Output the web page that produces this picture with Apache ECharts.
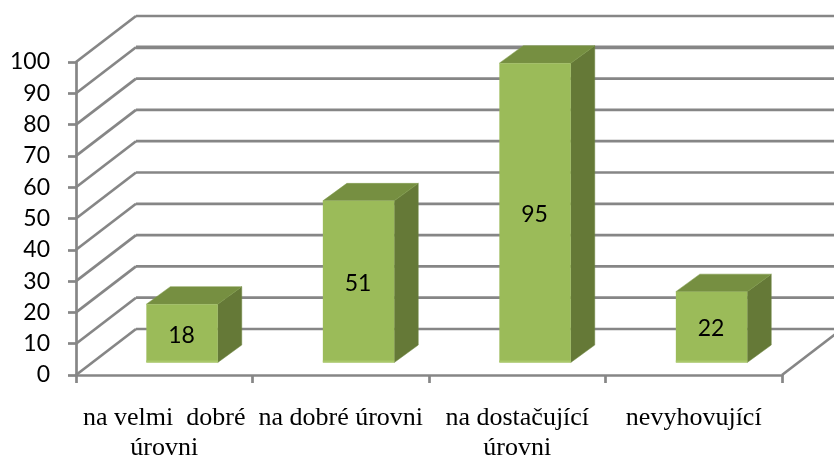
<!DOCTYPE html>
<html><head><meta charset="utf-8">
<style>html,body{margin:0;padding:0;background:#fff}#c{width:834px;height:459px}</style>
<script src="https://cdn.jsdelivr.net/npm/echarts@6/dist/echarts.min.js"></script>
</head><body><div id="c"></div>
<script>
const categories = ['na velmi  dobré\núrovni', 'na dobré úrovni', 'na dostačující\núrovni', 'nevyhovující'];
const values = [18, 51, 95, 22];
const yTicks = [0, 10, 20, 30, 40, 50, 60, 70, 80, 90, 100];

const depthX = 60, depthY = 46, lineColor = '#868686', lineW = 2.7;
const chart = echarts.init(document.getElementById('c'), null, {renderer: 'canvas'});

function renderWall(params, api) {
  const v = api.value(0);
  const size = api.size([1, 0])[0];
  const p = api.coord([0, v]);
  const x0 = p[0] - size / 2, y = p[1];
  const xEnd = x0 + size * categories.length;
  const children = [
    {type: 'line', shape: {x1: x0, y1: y, x2: x0 + depthX, y2: y - depthY},
     style: {stroke: lineColor, lineWidth: lineW}},
    {type: 'line', shape: {x1: x0 + depthX, y1: y - depthY, x2: xEnd + depthX, y2: y - depthY},
     style: {stroke: lineColor, lineWidth: v === 90 ? 3.8 : lineW}}
  ];
  if (v === 0) {
    children.push({
      type: 'line',
      shape: {x1: xEnd, y1: y, x2: xEnd + depthX, y2: y - depthY},
      style: {stroke: lineColor, lineWidth: lineW}
    });
  }
  return {type: 'group', children};
}

function renderBar(params, api) {
  const idx = api.value(0), v = api.value(1);
  const c = api.coord([idx, v]), b = api.coord([idx, 0]);
  const cx = c[0] + 17.8, hw = 35.7, dx = 24, dy = 17.5;
  const l = cx - hw, r = cx + hw, bot = b[1] - 12.5, top = c[1] - 13 - 1.5;
  return {type: 'group', children: [
    {type: 'polygon', shape: {points: [[r, top], [r + dx, top - dy], [r + dx, bot - dy], [r, bot]]},
     style: {fill: '#657937', stroke: '#6f8640', lineWidth: 0.5}},
    {type: 'polygon', shape: {points: [[l, top], [l + dx, top - dy], [r + dx, top - dy], [r, top]]},
     style: {fill: '#768f41', stroke: '#7f9a48', lineWidth: 0.5}},
    {type: 'rect', shape: {x: l, y: top, width: hw * 2, height: bot - top},
     style: {fill: '#9bbb59'}},
    {type: 'rect', shape: {x: l, y: bot - 2, width: hw * 2, height: 2},
     style: {fill: '#a9c86a'}},
    {type: 'text', x: cx - 0.5, y: (top + bot) / 2 + 2,
     style: {text: String(v), fill: '#000', font: '23px Lato', align: 'center', verticalAlign: 'middle'}}
  ]};
}

chart.setOption({
  animation: false,
  backgroundColor: '#fff',
  grid: {left: 76, right: 52, top: 62, bottom: 84, outerBoundsMode: 'none'},
  xAxis: {
    type: 'category',
    data: categories,
    axisLine: {show: true, lineStyle: {color: lineColor, width: lineW}},
    axisTick: {show: true, alignWithLabel: false, length: 8, lineStyle: {color: lineColor, width: lineW}},
    splitLine: {show: false},
    axisLabel: {interval: 0, margin: 28, color: '#000', fontFamily: 'Liberation Serif', fontSize: 26, lineHeight: 30, align: 'center'}
  },
  yAxis: {
    type: 'value', min: 0, max: 100, interval: 10,
    axisLine: {show: true, lineStyle: {color: lineColor, width: lineW}},
    axisTick: {show: true, length: 8, lineStyle: {color: lineColor, width: lineW}},
    splitLine: {show: false},
    axisLabel: {margin: 26, color: '#000', fontFamily: 'Lato', fontSize: 23, padding: [3, 0, 0, 0], formatter: v => String(v)}
  },
  series: [
    {type: 'custom', renderItem: renderWall, data: yTicks.map(v => [v]), encode: {y: 0}, clip: false, z: 1, silent: true},
    {type: 'custom', renderItem: renderBar, data: values.map((v, i) => [i, v]), encode: {x: 0, y: 1}, clip: false, z: 3, silent: true}
  ]
});
</script></body></html>
